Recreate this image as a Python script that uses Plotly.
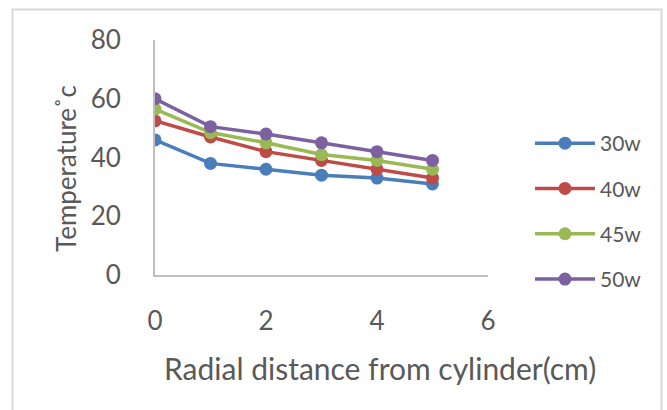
import plotly.graph_objects as go

distance = [0, 1, 2, 3, 4, 5]
series_names = ["30w", "40w", "45w", "50w"]
temp_30w = [46, 38, 36, 34, 33, 31]
temp_40w = [52.5, 47, 42, 39, 36, 33]
temp_45w = [56.5, 48.5, 45, 41, 39, 36]
temp_50w = [60, 50.5, 48, 45, 42, 39]
colors = ["#4a7ebb", "#be4b48", "#98b954", "#7d60a0"]
x_ticks = [0, 2, 4, 6]
y_ticks = [0, 20, 40, 60, 80]

FONT = "Lato, Carlito, Calibri, sans-serif"
GREY = "#595959"

fig = go.Figure()
for i, (name, vals) in enumerate(zip(series_names, [temp_30w, temp_40w, temp_45w, temp_50w])):
    fig.add_trace(go.Scatter(
        x=distance, y=vals, name=name, mode="lines+markers",
        legendgroup=name,
        line=dict(color=colors[i], width=3.5),
        marker=dict(color=colors[i], size=13),
    ))

# plot area: x 155..488, y 40..275 in a 667x410 canvas
L, R, T, B = 155, 667 - 488, 40, 410 - 275
W, H = 667 - L - R, 410 - T - B

def px(x):
    return (x - L) / W

def py(y):
    return (410 - B - y) / H

fig.update_layout(
    width=667, height=410,
    margin=dict(l=L, r=R, t=T, b=B),
    paper_bgcolor="white", plot_bgcolor="white",
    font=dict(family=FONT, color=GREY),
    xaxis=dict(range=[0, 6], tickvals=x_ticks, showgrid=False, zeroline=False,
               showline=True, linecolor="#bfbfbf", linewidth=2,
               tickfont=dict(size=26, color=GREY), ticklabelstandoff=22),
    yaxis=dict(range=[0, 80], tickvals=y_ticks, showgrid=False, zeroline=False,
               showline=True, linecolor="#bfbfbf", linewidth=2,
               tickfont=dict(size=26, color=GREY), ticklabelstandoff=27),
    legend=dict(x=px(530), y=py(123), xanchor="left", yanchor="top",
                font=dict(size=21, color=GREY), traceorder="grouped",
                tracegroupgap=15, itemwidth=60, bgcolor="rgba(0,0,0,0)"),
    shapes=[dict(type="rect", xref="paper", yref="paper",
                 x0=px(12.5), x1=px(661.5), y0=py(420), y1=py(9.5),
                 line=dict(color="#d9d9d9", width=2), layer="below")],
    annotations=[
        dict(text="Radial distance from cylinder(cm)", xref="paper", yref="paper",
             x=px(380), y=py(368), xanchor="center", yanchor="middle",
             showarrow=False, font=dict(size=30, color=GREY, family=FONT)),
        dict(text="Temperature˚c", xref="paper", yref="paper",
             x=px(66), y=py(168), xanchor="center", yanchor="middle", textangle=-90,
             showarrow=False, font=dict(size=26, color=GREY, family=FONT)),
    ],
)

fig.write_html("out.html", post_script="document.body.style.margin='0';",
               config={"displayModeBar": False})
